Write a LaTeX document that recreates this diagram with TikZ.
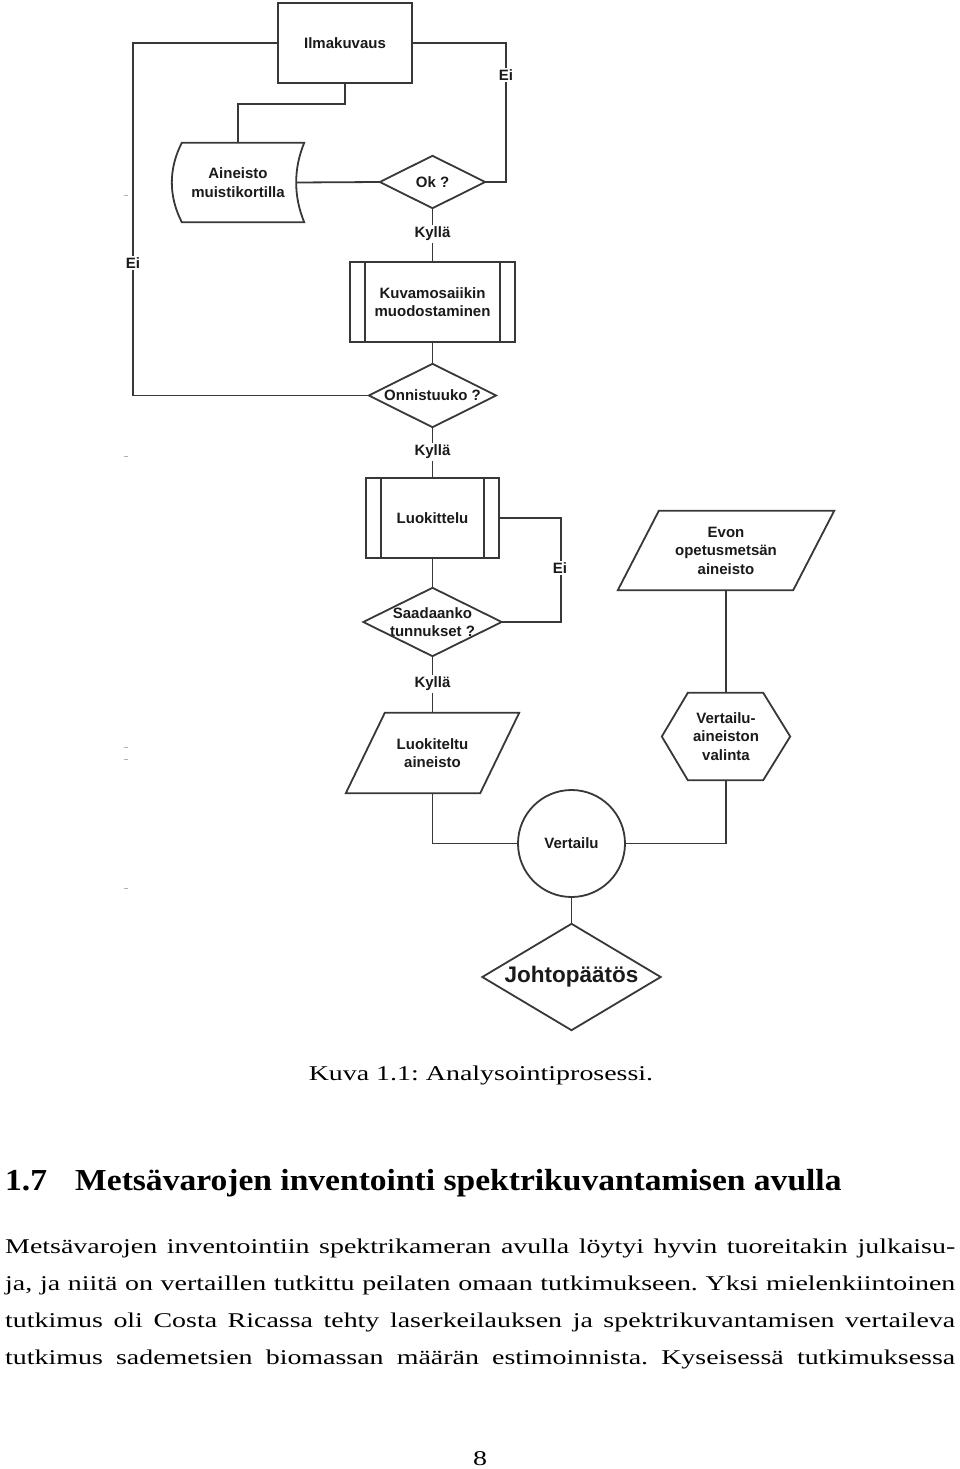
\documentclass[tikz,border=0pt]{standalone}
\usepackage{fontspec}
\setmainfont{Liberation Serif}
\newfontfamily\diafont{Liberation Sans}
\newfontfamily\bodyfont[FakeStretch=1.33]{Liberation Serif}
\newfontfamily\headfont[FakeStretch=1.1]{Liberation Serif}
\usetikzlibrary{calc}
\definecolor{linegray}{HTML}{383838}
\definecolor{txt}{HTML}{1A1A1A}
\definecolor{speck}{HTML}{B0B0B0}
\begin{document}
\frenchspacing
\begin{tikzpicture}[x=1pt,y=-1pt,
  ln/.style={draw=linegray, line width=1.8pt},
  shp/.style={draw=linegray, line width=1.8pt, line join=miter},
  lbl/.style={font=\diafont\bfseries\fontsize{15}{18.5}\selectfont, text=txt, align=center, inner sep=0pt},
  yn/.style={lbl, fill=white, inner sep=2pt},
  body/.style={font=\bodyfont\frenchspacing\fontsize{21}{37}\selectfont, text=black, inner sep=0pt, anchor=base west},
  head/.style={font=\headfont\bfseries\fontsize{30.5}{36}\selectfont, text=black, inner sep=0pt, anchor=base west}
]
\useasboundingbox (0,0) rectangle (960,1469);
\fill[white] (0,0) rectangle (960,1469);

% ---------- nodes ----------
\node[lbl, shp, minimum width=134, minimum height=80] (ilma) at (345,43) {Ilmakuvaus};
\node[lbl, minimum width=132, minimum height=79] (ain) at (238,182.5) {Aineisto\\muistikortilla};
\node[lbl, minimum width=105, minimum height=52] (ok) at (432.5,182) {Ok ?};
\node[lbl, shp, minimum width=165, minimum height=80] (kuva) at (432.5,302) {Kuvamosaiikin\\muodostaminen};
\node[lbl, minimum width=127, minimum height=63] (onni) at (432.5,395.5) {Onnistuuko ?};
\node[lbl, shp, minimum width=133, minimum height=80] (luok) at (432.5,518) {Luokittelu};
\node[lbl, minimum width=138, minimum height=68] (saa) at (432.5,622) {Saadaanko\\tunnukset ?};
\node[lbl, minimum width=173, minimum height=80] (luokd) at (432.5,753) {Luokiteltu\\aineisto};
\node[lbl, minimum width=216, minimum height=79] (evon) at (726,550.5) {Evon\\opetusmetsän\\aineisto};
\node[lbl, minimum width=128, minimum height=87] (hexa) at (726,736.5) {Vertailu-\\aineiston\\valinta};
\node[lbl, shp, circle, minimum size=107] (vert) at (571.5,843.5) {Vertailu};
\node[lbl, font=\diafont\bfseries\fontsize{22.5}{26}\selectfont, minimum width=178, minimum height=106] (joh) at (571.5,977) {Johtopäätös};

% ---------- shape outlines ----------
\draw[shp] ($(ain.north west)+(10,0)$) -- (ain.north east)
  .. controls ($(ain.north east)+(-10.7,26)$) and ($(ain.south east)+(-10.7,-26)$) .. (ain.south east)
  -- ($(ain.south west)+(10,0)$)
  .. controls ($(ain.south west)+(-3.3,-26)$) and ($(ain.north west)+(-3.3,26)$) .. ($(ain.north west)+(10,0)$) -- cycle;
\foreach \n in {ok,onni,saa,joh}
  \draw[shp] (\n.north) -- (\n.east) -- (\n.south) -- (\n.west) -- cycle;
\draw[shp] ([xshift=16]kuva.north west) -- ([xshift=16]kuva.south west);
\draw[shp] ([xshift=-16]kuva.north east) -- ([xshift=-16]kuva.south east);
\draw[shp] ([xshift=16]luok.north west) -- ([xshift=16]luok.south west);
\draw[shp] ([xshift=-16]luok.north east) -- ([xshift=-16]luok.south east);
\draw[shp] ([xshift=39]luokd.north west) -- (luokd.north east) -- ([xshift=-39]luokd.south east) -- (luokd.south west) -- cycle;
\draw[shp] ([xshift=41]evon.north west) -- (evon.north east) -- ([xshift=-41]evon.south east) -- (evon.south west) -- cycle;
\draw[shp] (hexa.west) -- ([xshift=26]hexa.north west) -- ([xshift=-27]hexa.north east) -- (hexa.east)
  -- ([xshift=-27]hexa.south east) -- ([xshift=26]hexa.south west) -- cycle;

% ---------- connectors ----------
\draw[ln] (ilma.south) -- ++(0,20) -| (ain.north);
\draw[ln] ([xshift=-8]ain.east) -- (ok.west);
\draw[ln] (ok.east) -- ++(21,0) |- (ilma.east);
\draw[ln] (ok.south) -- (kuva.north);
\draw[ln] (kuva.south) -- (onni.north);
\draw[ln] (onni.west) -- (133,395.5) |- (ilma.west);
\draw[ln] (onni.south) -- (luok.north);
\draw[ln] (luok.east) -- ++(61,0) |- (saa.east);
\draw[ln] (luok.south) -- (saa.north);
\draw[ln] (saa.south) -- (luokd.north);
\draw[ln] (luokd.south) |- (vert.west);
\draw[ln] (vert.east) -| (hexa.south);
\draw[ln] (evon.south) -- (hexa.north);
\draw[ln] (vert.south) -- (joh.north);

% ---------- connector labels ----------
\node[yn] (ei1) at (506,75) {Ei};
\node[yn] (ky1) at (432.5,234) {Kyllä};
\node[yn] (ei2) at (133,263) {Ei};
\node[yn] (ky2) at (432.5,452) {Kyllä};
\node[yn] (ei3) at (560,568) {Ei};
\node[yn] (ky3) at (432.5,684) {Kyllä};

% ---------- specks ----------
\foreach \yy in {195,456,747,759,888}
  \draw[speck, line width=0.8pt] (124,\yy) -- (128,\yy);

% ---------- page text ----------
\node[body, anchor=base] (cap) at (481,1080) {Kuva 1.1: Analysointiprosessi.};
\node[head] (secnum) at (5,1190) {1.7};
\node[head] (sectitle) at (75,1190) {Metsävarojen inventointi spektrikuvantamisen avulla};
\node[body] (l1) at (5,1253) {\makebox[950pt][s]{Metsävarojen inventointiin spektrikameran avulla löytyi hyvin tuoreitakin julkaisu-}};
\node[body] (l2) at (5,1290) {\makebox[950pt][s]{ja, ja niitä on vertaillen tutkittu peilaten omaan tutkimukseen. Yksi mielenkiintoinen}};
\node[body] (l3) at (5,1327) {\makebox[950pt][s]{tutkimus oli Costa Ricassa tehty laserkeilauksen ja spektrikuvantamisen vertaileva}};
\node[body] (l4) at (5,1364) {\makebox[950pt][s]{tutkimus sademetsien biomassan määrän estimoinnista. Kyseisessä tutkimuksessa}};
\node[body, anchor=base] (pg) at (480,1465) {8};
\end{tikzpicture}
\end{document}
